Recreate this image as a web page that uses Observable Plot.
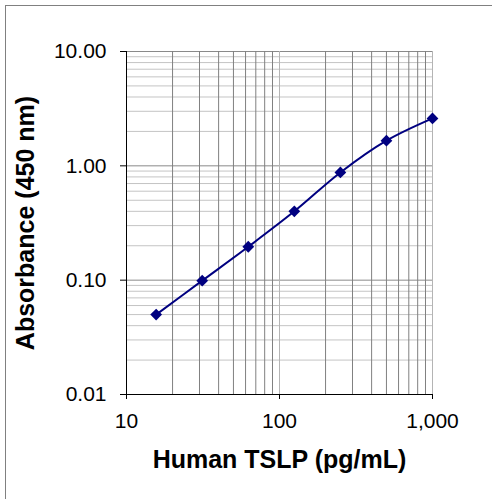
<!DOCTYPE html>
<html>
<head>
<meta charset="utf-8">
<script src="https://cdn.jsdelivr.net/npm/d3@7"></script>
<script src="https://cdn.jsdelivr.net/npm/@observablehq/plot@0.6"></script>
<style>
  html, body { margin: 0; padding: 0; background: white; overflow: hidden; }
  #frame { position: absolute; left: 5px; top: 5px; width: 700px; height: 700px; border: 1px solid #808080; pointer-events: none; }
  #chart { position: absolute; left: 0; top: 0; }
</style>
</head>
<body>
<div id="chart"></div>
<div id="frame"></div>
<script>
const concentrations = [15.625, 31.25, 62.5, 125, 250, 500, 1000];
const absorbance = [0.050, 0.099, 0.196, 0.40, 0.875, 1.66, 2.60];
const xMajorTicks = [10, 100, 1000];
const xMinorTicks = [20, 30, 40, 50, 60, 70, 80, 90, 200, 300, 400, 500, 600, 700, 800, 900];
const yMajorTicks = [0.01, 0.1, 1, 10];
const yMinorTicks = [0.02, 0.03, 0.04, 0.05, 0.06, 0.07, 0.08, 0.09,
                     0.2, 0.3, 0.4, 0.5, 0.6, 0.7, 0.8, 0.9,
                     2, 3, 4, 5, 6, 7, 8, 9];
const xTitle = "Human TSLP (pg/mL)";
const yTitle = "Absorbance (450 nm)";

const data = concentrations.map((c, i) => ({c, a: absorbance[i]}));

const chart = Plot.plot({
  width: 492,
  height: 499,
  marginLeft: 126,
  marginRight: 60,
  marginTop: 51,
  marginBottom: 105,
  style: {fontFamily: "'Liberation Sans', Arial, sans-serif", fontSize: "21px", color: "black", background: "white"},
  x: {type: "log", domain: [10, 1000]},
  y: {type: "log", domain: [0.01, 10]},
  marks: [
    Plot.ruleY(yMinorTicks, {stroke: "#c4c4c4", strokeWidth: 1}),
    Plot.ruleY(yMajorTicks.slice(1), {stroke: "#8a8a8a", strokeWidth: 1}),
    Plot.ruleX(xMinorTicks, {stroke: "#808080", strokeWidth: 1}),
    Plot.ruleX(xMajorTicks.slice(1), {stroke: "#b4b4b4", strokeWidth: 1}),
    Plot.ruleX([10], {stroke: "black", strokeWidth: 1}),
    Plot.ruleY([0.01], {stroke: "black", strokeWidth: 1}),
    Plot.axisY(yMajorTicks, {tickSize: 6, tickPadding: 14, tickFormat: d3.format(".2f"), label: null, fontSize: 21}),
    Plot.axisX(xMajorTicks, {tickSize: 5, tickPadding: 14, tickFormat: d3.format(","), label: null, fontSize: 21}),
    Plot.line(data, {x: "c", y: "a", curve: "catmull-rom", stroke: "#000080", strokeWidth: 2}),
    Plot.dot(data, {x: "c", y: "a", symbol: "diamond2", fill: "#000080", stroke: "none", r: 5.3}),
    Plot.text([xTitle], {frameAnchor: "bottom", dy: 73, textAnchor: "middle", fontWeight: "bold", fontSize: 25, fill: "black"}),
    Plot.text([yTitle], {frameAnchor: "left", dx: -101, rotate: -90, textAnchor: "middle", fontWeight: "bold", fontSize: 25, fill: "black"})
  ]
});
document.getElementById("chart").appendChild(chart);
</script>
</body>
</html>
